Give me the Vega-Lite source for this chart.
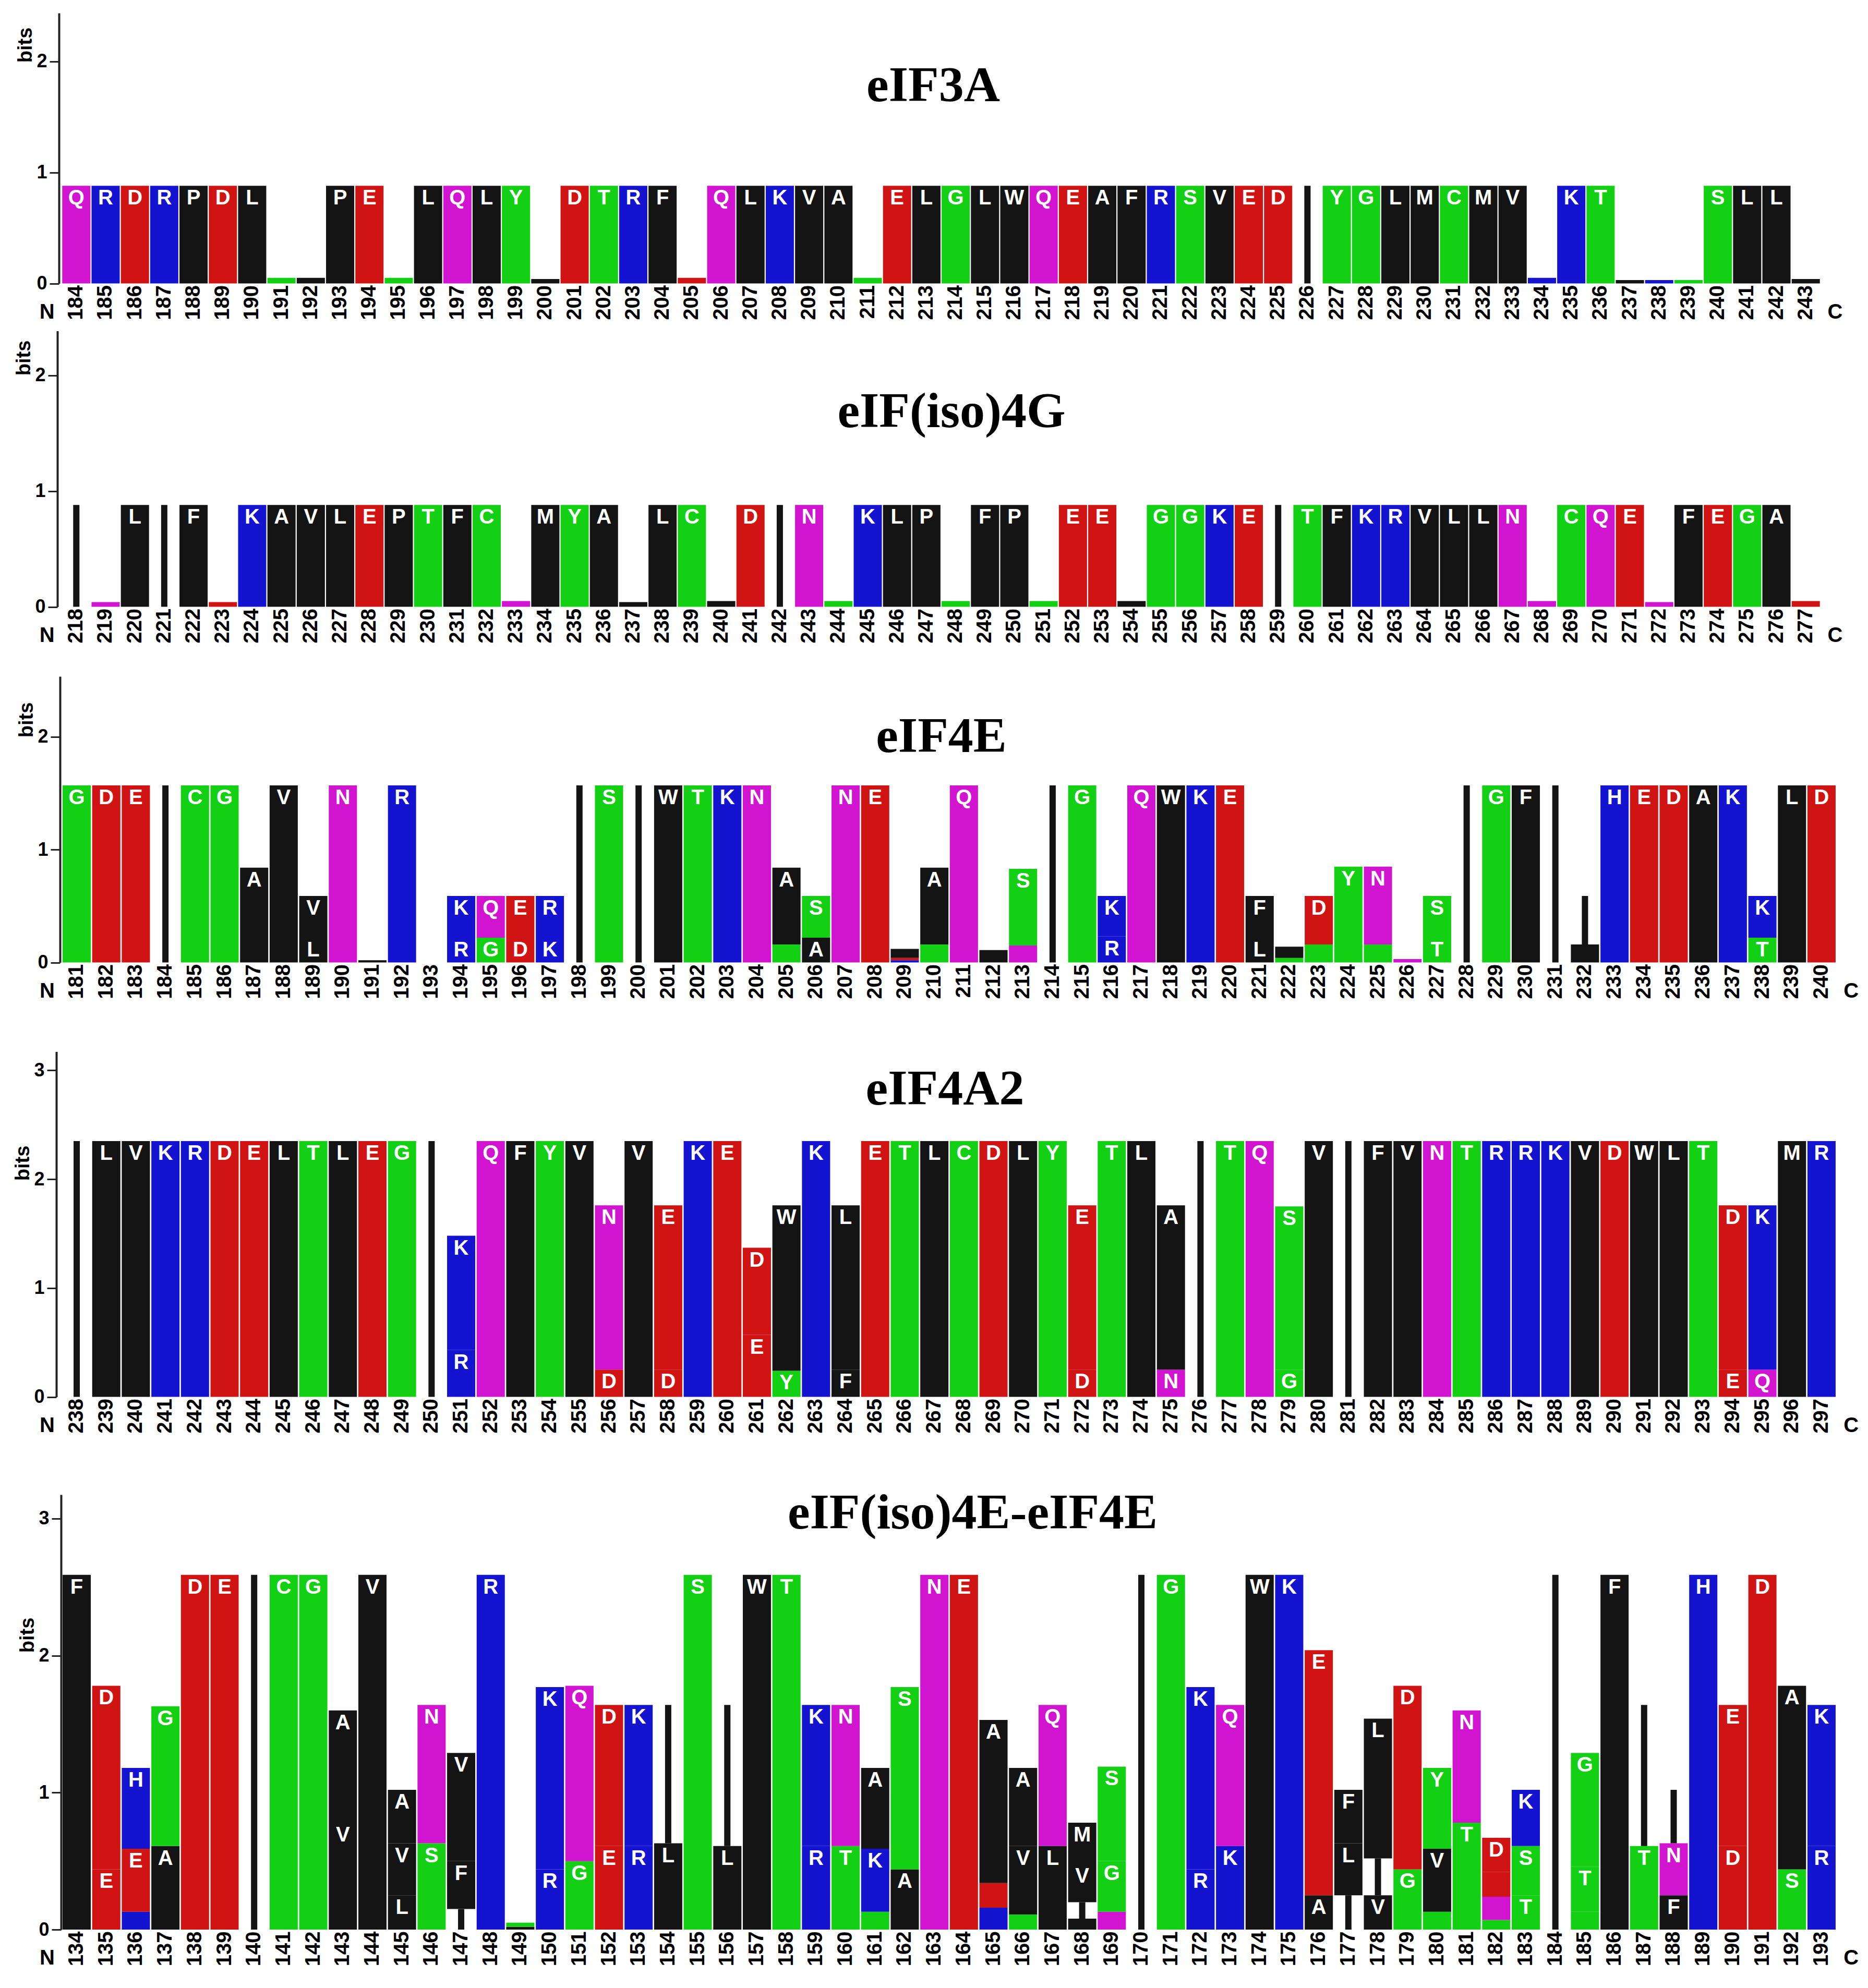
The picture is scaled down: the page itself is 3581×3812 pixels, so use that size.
{
"$schema": "https://vega.github.io/schema/vega-lite/v6.json",
"background": "white",
"padding": {"left": 25, "top": 0, "right": 0, "bottom": 0},
"spacing": 5,
"config": {
  "view": {"stroke": null},
  "axis": {"labelFont": "Liberation Sans", "titleFont": "Liberation Sans", "labelColor": "#000", "titleColor": "#000", "grid": false},
  "title": {"font": "Liberation Serif", "fontSize": 96, "fontWeight": "bold", "anchor": "middle", "frame": "group", "baseline": "alphabetic", "color": "#000"}
},
"datasets": {
  "ends": [{"pos": "N"}, {"pos": "C"}],
  "p1": [
    {"pos":"184","aa":"Q","bits":0.88},{"pos":"185","aa":"R","bits":0.88},{"pos":"186","aa":"D","bits":0.88},{"pos":"187","aa":"R","bits":0.88},{"pos":"188","aa":"P","bits":0.88},{"pos":"189","aa":"D","bits":0.88},{"pos":"190","aa":"L","bits":0.88},{"pos":"191","aa":"S","bits":0.05},{"pos":"192","aa":"A","bits":0.05},{"pos":"193","aa":"P","bits":0.88},{"pos":"194","aa":"E","bits":0.88},{"pos":"195","aa":"S","bits":0.05},{"pos":"196","aa":"L","bits":0.88},{"pos":"197","aa":"Q","bits":0.88},{"pos":"198","aa":"L","bits":0.88},{"pos":"199","aa":"Y","bits":0.88},{"pos":"200","aa":"L","bits":0.04},{"pos":"201","aa":"D","bits":0.88},{"pos":"202","aa":"T","bits":0.88},{"pos":"203","aa":"R","bits":0.88},{"pos":"204","aa":"F","bits":0.88},{"pos":"205","aa":"D","bits":0.05},{"pos":"206","aa":"Q","bits":0.88},{"pos":"207","aa":"L","bits":0.88},{"pos":"208","aa":"K","bits":0.88},{"pos":"209","aa":"V","bits":0.88},{"pos":"210","aa":"A","bits":0.88},{"pos":"211","aa":"T","bits":0.05},{"pos":"212","aa":"E","bits":0.88},{"pos":"213","aa":"L","bits":0.88},{"pos":"214","aa":"G","bits":0.88},{"pos":"215","aa":"L","bits":0.88},{"pos":"216","aa":"W","bits":0.88},{"pos":"217","aa":"Q","bits":0.88},{"pos":"218","aa":"E","bits":0.88},{"pos":"219","aa":"A","bits":0.88},{"pos":"220","aa":"F","bits":0.88},{"pos":"221","aa":"R","bits":0.88},{"pos":"222","aa":"S","bits":0.88},{"pos":"223","aa":"V","bits":0.88},{"pos":"224","aa":"E","bits":0.88},{"pos":"225","aa":"D","bits":0.88},{"pos":"226","aa":"I","bits":0.88},{"pos":"227","aa":"Y","bits":0.88},{"pos":"228","aa":"G","bits":0.88},{"pos":"229","aa":"L","bits":0.88},{"pos":"230","aa":"M","bits":0.88},{"pos":"231","aa":"C","bits":0.88},{"pos":"232","aa":"M","bits":0.88},{"pos":"233","aa":"V","bits":0.88},{"pos":"234","aa":"K","bits":0.05},{"pos":"235","aa":"K","bits":0.88},{"pos":"236","aa":"T","bits":0.88},{"pos":"237","aa":"P","bits":0.03},{"pos":"238","aa":"K","bits":0.03},{"pos":"239","aa":"S","bits":0.03},{"pos":"240","aa":"S","bits":0.88},{"pos":"241","aa":"L","bits":0.88},{"pos":"242","aa":"L","bits":0.88},{"pos":"243","aa":"M","bits":0.04}
  ],
  "p2": [
    {"pos":"218","aa":"I","bits":0.88},{"pos":"219","aa":"Q","bits":0.04},{"pos":"220","aa":"L","bits":0.88},{"pos":"221","aa":"I","bits":0.88},{"pos":"222","aa":"F","bits":0.88},{"pos":"223","aa":"E","bits":0.04},{"pos":"224","aa":"K","bits":0.88},{"pos":"225","aa":"A","bits":0.88},{"pos":"226","aa":"V","bits":0.88},{"pos":"227","aa":"L","bits":0.88},{"pos":"228","aa":"E","bits":0.88},{"pos":"229","aa":"P","bits":0.88},{"pos":"230","aa":"T","bits":0.88},{"pos":"231","aa":"F","bits":0.88},{"pos":"232","aa":"C","bits":0.88},{"pos":"233","aa":"Q","bits":0.05},{"pos":"234","aa":"M","bits":0.88},{"pos":"235","aa":"Y","bits":0.88},{"pos":"236","aa":"A","bits":0.88},{"pos":"237","aa":"L","bits":0.04},{"pos":"238","aa":"L","bits":0.88},{"pos":"239","aa":"C","bits":0.88},{"pos":"240","aa":"F","bits":0.05},{"pos":"241","aa":"D","bits":0.88},{"pos":"242","aa":"I","bits":0.88},{"pos":"243","aa":"N","bits":0.88},{"pos":"244","aa":"G","bits":0.05},{"pos":"245","aa":"K","bits":0.88},{"pos":"246","aa":"L","bits":0.88},{"pos":"247","aa":"P","bits":0.88},{"pos":"248","aa":"S","bits":0.05},{"pos":"249","aa":"F","bits":0.88},{"pos":"250","aa":"P","bits":0.88},{"pos":"251","aa":"S","bits":0.05},{"pos":"252","aa":"E","bits":0.88},{"pos":"253","aa":"E","bits":0.88},{"pos":"254","aa":"A","bits":0.05},{"pos":"255","aa":"G","bits":0.88},{"pos":"256","aa":"G","bits":0.88},{"pos":"257","aa":"K","bits":0.88},{"pos":"258","aa":"E","bits":0.88},{"pos":"259","aa":"I","bits":0.88},{"pos":"260","aa":"T","bits":0.88},{"pos":"261","aa":"F","bits":0.88},{"pos":"262","aa":"K","bits":0.88},{"pos":"263","aa":"R","bits":0.88},{"pos":"264","aa":"V","bits":0.88},{"pos":"265","aa":"L","bits":0.88},{"pos":"266","aa":"L","bits":0.88},{"pos":"267","aa":"N","bits":0.88},{"pos":"268","aa":"N","bits":0.05},{"pos":"269","aa":"C","bits":0.88},{"pos":"270","aa":"Q","bits":0.88},{"pos":"271","aa":"E","bits":0.88},{"pos":"272","aa":"Q","bits":0.04},{"pos":"273","aa":"F","bits":0.88},{"pos":"274","aa":"E","bits":0.88},{"pos":"275","aa":"G","bits":0.88},{"pos":"276","aa":"A","bits":0.88},{"pos":"277","aa":"D","bits":0.05}
  ],
  "p3": [
    {"pos":"181","aa":"G","bits":1.57},{"pos":"182","aa":"D","bits":1.57},{"pos":"183","aa":"E","bits":1.57},{"pos":"184","aa":"I","bits":1.57},{"pos":"185","aa":"C","bits":1.57},{"pos":"186","aa":"G","bits":1.57},
    {"pos":"187","aa":"V","bits":0.16},{"pos":"187","aa":"A","bits":0.68},
    {"pos":"188","aa":"V","bits":1.57},
    {"pos":"189","aa":"L","bits":0.22},{"pos":"189","aa":"V","bits":0.37},
    {"pos":"190","aa":"N","bits":1.57},{"pos":"191","aa":"L","bits":0.02},{"pos":"192","aa":"R","bits":1.57},
    {"pos":"194","aa":"R","bits":0.22},{"pos":"194","aa":"K","bits":0.37},
    {"pos":"195","aa":"G","bits":0.22},{"pos":"195","aa":"Q","bits":0.37},
    {"pos":"196","aa":"D","bits":0.22},{"pos":"196","aa":"E","bits":0.37},
    {"pos":"197","aa":"K","bits":0.22},{"pos":"197","aa":"R","bits":0.37},
    {"pos":"198","aa":"I","bits":1.57},{"pos":"199","aa":"S","bits":1.57},{"pos":"200","aa":"I","bits":1.57},{"pos":"201","aa":"W","bits":1.57},{"pos":"202","aa":"T","bits":1.57},{"pos":"203","aa":"K","bits":1.57},{"pos":"204","aa":"N","bits":1.57},
    {"pos":"205","aa":"S","bits":0.16},{"pos":"205","aa":"A","bits":0.68},
    {"pos":"206","aa":"A","bits":0.22},{"pos":"206","aa":"S","bits":0.37},
    {"pos":"207","aa":"N","bits":1.57},{"pos":"208","aa":"E","bits":1.57},
    {"pos":"209","aa":"K","bits":0.02},{"pos":"209","aa":"D","bits":0.02},{"pos":"209","aa":"A","bits":0.08},
    {"pos":"210","aa":"T","bits":0.16},{"pos":"210","aa":"A","bits":0.68},
    {"pos":"211","aa":"Q","bits":1.57},
    {"pos":"212","aa":"L","bits":0.03},{"pos":"212","aa":"V","bits":0.08},
    {"pos":"213","aa":"N","bits":0.15},{"pos":"213","aa":"S","bits":0.68},
    {"pos":"214","aa":"I","bits":1.57},{"pos":"215","aa":"G","bits":1.57},
    {"pos":"216","aa":"R","bits":0.23},{"pos":"216","aa":"K","bits":0.36},
    {"pos":"217","aa":"Q","bits":1.57},{"pos":"218","aa":"W","bits":1.57},{"pos":"219","aa":"K","bits":1.57},{"pos":"220","aa":"E","bits":1.57},
    {"pos":"221","aa":"L","bits":0.22},{"pos":"221","aa":"F","bits":0.37},
    {"pos":"222","aa":"C","bits":0.04},{"pos":"222","aa":"L","bits":0.1},
    {"pos":"223","aa":"G","bits":0.16},{"pos":"223","aa":"D","bits":0.43},
    {"pos":"224","aa":"C","bits":0.16},{"pos":"224","aa":"Y","bits":0.69},
    {"pos":"225","aa":"T","bits":0.16},{"pos":"225","aa":"N","bits":0.69},
    {"pos":"226","aa":"Q","bits":0.03},
    {"pos":"227","aa":"T","bits":0.22},{"pos":"227","aa":"S","bits":0.37},
    {"pos":"228","aa":"I","bits":1.57},{"pos":"229","aa":"G","bits":1.57},{"pos":"230","aa":"F","bits":1.57},{"pos":"231","aa":"I","bits":1.57},
    {"pos":"232","aa":"F","bits":0.16},{"pos":"232","aa":"I","bits":0.43},
    {"pos":"233","aa":"H","bits":1.57},{"pos":"234","aa":"E","bits":1.57},{"pos":"235","aa":"D","bits":1.57},{"pos":"236","aa":"A","bits":1.57},{"pos":"237","aa":"K","bits":1.57},
    {"pos":"238","aa":"T","bits":0.22},{"pos":"238","aa":"K","bits":0.37},
    {"pos":"239","aa":"L","bits":1.57},{"pos":"240","aa":"D","bits":1.57}
  ],
  "p4": [
    {"pos":"238","aa":"I","bits":2.35},{"pos":"239","aa":"L","bits":2.35},{"pos":"240","aa":"V","bits":2.35},{"pos":"241","aa":"K","bits":2.35},{"pos":"242","aa":"R","bits":2.35},{"pos":"243","aa":"D","bits":2.35},{"pos":"244","aa":"E","bits":2.35},{"pos":"245","aa":"L","bits":2.35},{"pos":"246","aa":"T","bits":2.35},{"pos":"247","aa":"L","bits":2.35},{"pos":"248","aa":"E","bits":2.35},{"pos":"249","aa":"G","bits":2.35},{"pos":"250","aa":"I","bits":2.35},
    {"pos":"251","aa":"R","bits":0.43},{"pos":"251","aa":"K","bits":1.05},
    {"pos":"252","aa":"Q","bits":2.35},{"pos":"253","aa":"F","bits":2.35},{"pos":"254","aa":"Y","bits":2.35},{"pos":"255","aa":"V","bits":2.35},
    {"pos":"256","aa":"D","bits":0.25},{"pos":"256","aa":"N","bits":1.51},
    {"pos":"257","aa":"V","bits":2.35},
    {"pos":"258","aa":"D","bits":0.25},{"pos":"258","aa":"E","bits":1.51},
    {"pos":"259","aa":"K","bits":2.35},{"pos":"260","aa":"E","bits":2.35},
    {"pos":"261","aa":"E","bits":0.57},{"pos":"261","aa":"D","bits":0.8},
    {"pos":"262","aa":"Y","bits":0.24},{"pos":"262","aa":"W","bits":1.52},
    {"pos":"263","aa":"K","bits":2.35},
    {"pos":"264","aa":"F","bits":0.25},{"pos":"264","aa":"L","bits":1.51},
    {"pos":"265","aa":"E","bits":2.35},{"pos":"266","aa":"T","bits":2.35},{"pos":"267","aa":"L","bits":2.35},{"pos":"268","aa":"C","bits":2.35},{"pos":"269","aa":"D","bits":2.35},{"pos":"270","aa":"L","bits":2.35},{"pos":"271","aa":"Y","bits":2.35},
    {"pos":"272","aa":"D","bits":0.25},{"pos":"272","aa":"E","bits":1.51},
    {"pos":"273","aa":"T","bits":2.35},{"pos":"274","aa":"L","bits":2.35},
    {"pos":"275","aa":"N","bits":0.25},{"pos":"275","aa":"A","bits":1.51},
    {"pos":"276","aa":"I","bits":2.35},{"pos":"277","aa":"T","bits":2.35},{"pos":"278","aa":"Q","bits":2.35},
    {"pos":"279","aa":"G","bits":0.25},{"pos":"279","aa":"S","bits":1.5},
    {"pos":"280","aa":"V","bits":2.35},{"pos":"281","aa":"I","bits":2.35},{"pos":"282","aa":"F","bits":2.35},{"pos":"283","aa":"V","bits":2.35},{"pos":"284","aa":"N","bits":2.35},{"pos":"285","aa":"T","bits":2.35},{"pos":"286","aa":"R","bits":2.35},{"pos":"287","aa":"R","bits":2.35},{"pos":"288","aa":"K","bits":2.35},{"pos":"289","aa":"V","bits":2.35},{"pos":"290","aa":"D","bits":2.35},{"pos":"291","aa":"W","bits":2.35},{"pos":"292","aa":"L","bits":2.35},{"pos":"293","aa":"T","bits":2.35},
    {"pos":"294","aa":"E","bits":0.25},{"pos":"294","aa":"D","bits":1.51},
    {"pos":"295","aa":"Q","bits":0.25},{"pos":"295","aa":"K","bits":1.51},
    {"pos":"296","aa":"M","bits":2.35},{"pos":"297","aa":"R","bits":2.35}
  ],
  "p5": [
    {"pos":"134","aa":"F","bits":2.59},
    {"pos":"135","aa":"E","bits":0.44},{"pos":"135","aa":"D","bits":1.34},
    {"pos":"136","aa":"K","bits":0.13},{"pos":"136","aa":"E","bits":0.46},{"pos":"136","aa":"H","bits":0.59},
    {"pos":"137","aa":"A","bits":0.61},{"pos":"137","aa":"G","bits":1.02},
    {"pos":"138","aa":"D","bits":2.59},{"pos":"139","aa":"E","bits":2.59},{"pos":"140","aa":"I","bits":2.59},{"pos":"141","aa":"C","bits":2.59},{"pos":"142","aa":"G","bits":2.59},
    {"pos":"143","aa":"V","bits":0.78},{"pos":"143","aa":"A","bits":0.82},
    {"pos":"144","aa":"V","bits":2.59},
    {"pos":"145","aa":"L","bits":0.25},{"pos":"145","aa":"V","bits":0.38},{"pos":"145","aa":"A","bits":0.39},
    {"pos":"146","aa":"S","bits":0.63},{"pos":"146","aa":"N","bits":1.01},
    {"pos":"147","aa":"I","bits":0.15},{"pos":"147","aa":"F","bits":0.35},{"pos":"147","aa":"V","bits":0.79},
    {"pos":"148","aa":"R","bits":2.59},
    {"pos":"149","aa":"A","bits":0.02},{"pos":"149","aa":"G","bits":0.03},
    {"pos":"150","aa":"R","bits":0.44},{"pos":"150","aa":"K","bits":1.33},
    {"pos":"151","aa":"G","bits":0.5},{"pos":"151","aa":"Q","bits":1.28},
    {"pos":"152","aa":"E","bits":0.61},{"pos":"152","aa":"D","bits":1.03},
    {"pos":"153","aa":"R","bits":0.61},{"pos":"153","aa":"K","bits":1.03},
    {"pos":"154","aa":"L","bits":0.63},{"pos":"154","aa":"I","bits":1.01},
    {"pos":"155","aa":"S","bits":2.59},
    {"pos":"156","aa":"L","bits":0.61},{"pos":"156","aa":"I","bits":1.03},
    {"pos":"157","aa":"W","bits":2.59},{"pos":"158","aa":"T","bits":2.59},
    {"pos":"159","aa":"R","bits":0.61},{"pos":"159","aa":"K","bits":1.03},
    {"pos":"160","aa":"T","bits":0.61},{"pos":"160","aa":"N","bits":1.03},
    {"pos":"161","aa":"S","bits":0.13},{"pos":"161","aa":"K","bits":0.46},{"pos":"161","aa":"A","bits":0.59},
    {"pos":"162","aa":"A","bits":0.44},{"pos":"162","aa":"S","bits":1.33},
    {"pos":"163","aa":"N","bits":2.59},{"pos":"164","aa":"E","bits":2.59},
    {"pos":"165","aa":"K","bits":0.16},{"pos":"165","aa":"E","bits":0.18},{"pos":"165","aa":"A","bits":1.19},
    {"pos":"166","aa":"T","bits":0.11},{"pos":"166","aa":"V","bits":0.5},{"pos":"166","aa":"A","bits":0.57},
    {"pos":"167","aa":"L","bits":0.61},{"pos":"167","aa":"Q","bits":1.03},
    {"pos":"168","aa":"L","bits":0.08},{"pos":"168","aa":"I","bits":0.12},{"pos":"168","aa":"V","bits":0.28},{"pos":"168","aa":"M","bits":0.3},
    {"pos":"169","aa":"N","bits":0.13},{"pos":"169","aa":"G","bits":0.37},{"pos":"169","aa":"S","bits":0.69},
    {"pos":"170","aa":"I","bits":2.59},{"pos":"171","aa":"G","bits":2.59},
    {"pos":"172","aa":"R","bits":0.44},{"pos":"172","aa":"K","bits":1.33},
    {"pos":"173","aa":"K","bits":0.61},{"pos":"173","aa":"Q","bits":1.03},
    {"pos":"174","aa":"W","bits":2.59},{"pos":"175","aa":"K","bits":2.59},
    {"pos":"176","aa":"A","bits":0.25},{"pos":"176","aa":"E","bits":1.79},
    {"pos":"177","aa":"I","bits":0.25},{"pos":"177","aa":"L","bits":0.38},{"pos":"177","aa":"F","bits":0.39},
    {"pos":"178","aa":"V","bits":0.25},{"pos":"178","aa":"I","bits":0.27},{"pos":"178","aa":"L","bits":1.02},
    {"pos":"179","aa":"G","bits":0.44},{"pos":"179","aa":"D","bits":1.34},
    {"pos":"180","aa":"C","bits":0.13},{"pos":"180","aa":"V","bits":0.46},{"pos":"180","aa":"Y","bits":0.59},
    {"pos":"181","aa":"T","bits":0.78},{"pos":"181","aa":"N","bits":0.82},
    {"pos":"182","aa":"S","bits":0.07},{"pos":"182","aa":"N","bits":0.17},{"pos":"182","aa":"E","bits":0.18},{"pos":"182","aa":"D","bits":0.25},
    {"pos":"183","aa":"T","bits":0.25},{"pos":"183","aa":"S","bits":0.36},{"pos":"183","aa":"K","bits":0.41},
    {"pos":"184","aa":"I","bits":2.59},
    {"pos":"185","aa":"S","bits":0.13},{"pos":"185","aa":"T","bits":0.33},{"pos":"185","aa":"G","bits":0.83},
    {"pos":"186","aa":"F","bits":2.59},
    {"pos":"187","aa":"T","bits":0.61},{"pos":"187","aa":"I","bits":1.03},
    {"pos":"188","aa":"F","bits":0.25},{"pos":"188","aa":"N","bits":0.38},{"pos":"188","aa":"I","bits":0.39},
    {"pos":"189","aa":"H","bits":2.59},
    {"pos":"190","aa":"D","bits":0.61},{"pos":"190","aa":"E","bits":1.03},
    {"pos":"191","aa":"D","bits":2.59},
    {"pos":"192","aa":"S","bits":0.44},{"pos":"192","aa":"A","bits":1.34},
    {"pos":"193","aa":"R","bits":0.61},{"pos":"193","aa":"K","bits":1.03}
  ]
},
"vconcat": [
  {
    "width": 3484, "height": 543.5,
    "title": {"text": "eIF3A", "offset": -214, "dx": -15},
    "layer": [
      {"data": {"name": "p1"},
       "transform": [{"stack": "bits", "groupby": ["pos"], "sort": [{"field": "bits", "order": "ascending"}], "as": ["y0", "y1"]}],
       "mark": {"type": "bar", "opacity": 0.92},
       "encoding": {
         "x": {"field": "pos", "type": "ordinal", "scale": {"paddingInner": 0, "paddingOuter": 0, "domain": ["N","184","185","186","187","188","189","190","191","192","193","194","195","196","197","198","199","200","201","202","203","204","205","206","207","208","209","210","211","212","213","214","215","216","217","218","219","220","221","222","223","224","225","226","227","228","229","230","231","232","233","234","235","236","237","238","239","240","241","242","243","C"]},
               "axis": {"title": null, "labelAngle": -90, "labelFontSize": 40, "labelFontWeight": "bold", "labelPadding": 3, "ticks": false, "tickSize": 0, "domain": false, "labelAlign": "right", "labelBaseline": "middle", "labelOverlap": false, "labelExpr": "datum.value == 'N' || datum.value == 'C' ? '' : datum.value"}},
         "y": {"field": "y1", "type": "quantitative", "scale": {"domain": [0, 2.437], "range": [543.5, 25], "nice": false, "zero": false},
               "axis": {"title": "bits", "values": [0, 1, 2], "format": "d", "labelFontSize": 36, "labelFontWeight": "bold", "labelPadding": 5, "tickSize": 18, "tickWidth": 3, "tickColor": "#222", "domainColor": "#222", "domainWidth": 4, "offset": -51, "titleFontSize": 38, "titleFontWeight": "bold", "titleAngle": -90, "titleAlign": "center", "titleBaseline": "middle", "titleX": -64, "titleY": 86}},
         "y2": {"field": "y0"},
         "color": {"field": "aa", "type": "nominal", "legend": null, "scale": {"domain": ["A","C","D","E","F","G","H","I","K","L","M","N","P","Q","R","S","T","V","W","Y"], "range": ["#000000","#00CC00","#CC0000","#CC0000","#000000","#00CC00","#0000CC","#000000","#0000CC","#000000","#000000","#CC00CC","#000000","#CC00CC","#0000CC","#00CC00","#00CC00","#000000","#000000","#00CC00"]}},
         "size": {"condition": {"test": "datum.aa == 'I'", "value": 12}, "value": 54}
       }},
      {"data": {"name": "p1"},
       "transform": [{"stack": "bits", "groupby": ["pos"], "sort": [{"field": "bits", "order": "ascending"}], "as": ["y0", "y1"]}, {"filter": "datum.bits >= 0.2 && datum.aa != 'I'"}],
       "mark": {"type": "text", "color": "#ffffff", "font": "Liberation Sans", "fontSize": 40, "fontWeight": "bold", "baseline": "top", "align": "center", "dy": 4},
       "encoding": {"x": {"field": "pos", "type": "ordinal"}, "y": {"field": "y1", "type": "quantitative"}, "text": {"field": "aa"}}},
      {"data": {"name": "ends"},
       "mark": {"type": "text", "color": "#000000", "font": "Liberation Sans", "fontSize": 40, "fontWeight": "bold", "baseline": "middle", "align": "center", "dy": 55},
       "encoding": {"x": {"field": "pos", "type": "ordinal"}, "y": {"datum": 0, "type": "quantitative"}, "text": {"field": "pos"}}}
    ]
  },
  {
    "width": 3484, "height": 539.5,
    "title": {"text": "eIF(iso)4G", "offset": -215, "dx": 20},
    "layer": [
      {"data": {"name": "p2"},
       "transform": [{"stack": "bits", "groupby": ["pos"], "sort": [{"field": "bits", "order": "ascending"}], "as": ["y0", "y1"]}],
       "mark": {"type": "bar", "opacity": 0.92},
       "encoding": {
         "x": {"field": "pos", "type": "ordinal", "scale": {"paddingInner": 0, "paddingOuter": 0, "domain": ["N","218","219","220","221","222","223","224","225","226","227","228","229","230","231","232","233","234","235","236","237","238","239","240","241","242","243","244","245","246","247","248","249","250","251","252","253","254","255","256","257","258","259","260","261","262","263","264","265","266","267","268","269","270","271","272","273","274","275","276","277","C"]},
               "axis": {"title": null, "labelAngle": -90, "labelFontSize": 40, "labelFontWeight": "bold", "labelPadding": 3, "ticks": false, "tickSize": 0, "domain": false, "labelAlign": "right", "labelBaseline": "middle", "labelOverlap": false, "labelExpr": "datum.value == 'N' || datum.value == 'C' ? '' : datum.value"}},
         "y": {"field": "y1", "type": "quantitative", "scale": {"domain": [0, 2.383], "range": [539.5, 10.5], "nice": false, "zero": false},
               "axis": {"title": "bits", "values": [0, 1, 2], "format": "d", "labelFontSize": 36, "labelFontWeight": "bold", "labelPadding": 5, "tickSize": 18, "tickWidth": 3, "tickColor": "#222", "domainColor": "#222", "domainWidth": 4, "offset": -48, "titleFontSize": 38, "titleFontWeight": "bold", "titleAngle": -90, "titleAlign": "center", "titleBaseline": "middle", "titleX": -64, "titleY": 62}},
         "y2": {"field": "y0"},
         "color": {"field": "aa", "type": "nominal", "legend": null, "scale": {"domain": ["A","C","D","E","F","G","H","I","K","L","M","N","P","Q","R","S","T","V","W","Y"], "range": ["#000000","#00CC00","#CC0000","#CC0000","#000000","#00CC00","#0000CC","#000000","#0000CC","#000000","#000000","#CC00CC","#000000","#CC00CC","#0000CC","#00CC00","#00CC00","#000000","#000000","#00CC00"]}},
         "size": {"condition": {"test": "datum.aa == 'I'", "value": 12}, "value": 54}
       }},
      {"data": {"name": "p2"},
       "transform": [{"stack": "bits", "groupby": ["pos"], "sort": [{"field": "bits", "order": "ascending"}], "as": ["y0", "y1"]}, {"filter": "datum.bits >= 0.2 && datum.aa != 'I'"}],
       "mark": {"type": "text", "color": "#ffffff", "font": "Liberation Sans", "fontSize": 40, "fontWeight": "bold", "baseline": "top", "align": "center", "dy": 4},
       "encoding": {"x": {"field": "pos", "type": "ordinal"}, "y": {"field": "y1", "type": "quantitative"}, "text": {"field": "aa"}}},
      {"data": {"name": "ends"},
       "mark": {"type": "text", "color": "#000000", "font": "Liberation Sans", "fontSize": 40, "fontWeight": "bold", "baseline": "middle", "align": "center", "dy": 55},
       "encoding": {"x": {"field": "pos", "type": "ordinal"}, "y": {"datum": 0, "type": "quantitative"}, "text": {"field": "pos"}}}
    ]
  },
  {
    "width": 3515, "height": 601.5,
    "title": {"text": "eIF4E", "offset": -218, "dx": -15},
    "layer": [
      {"data": {"name": "p3"},
       "transform": [{"stack": "bits", "groupby": ["pos"], "sort": [{"field": "bits", "order": "ascending"}], "as": ["y0", "y1"]}],
       "mark": {"type": "bar", "opacity": 0.92},
       "encoding": {
         "x": {"field": "pos", "type": "ordinal", "scale": {"paddingInner": 0, "paddingOuter": 0, "domain": ["N","181","182","183","184","185","186","187","188","189","190","191","192","193","194","195","196","197","198","199","200","201","202","203","204","205","206","207","208","209","210","211","212","213","214","215","216","217","218","219","220","221","222","223","224","225","226","227","228","229","230","231","232","233","234","235","236","237","238","239","240","C"]},
               "axis": {"title": null, "labelAngle": -90, "labelFontSize": 40, "labelFontWeight": "bold", "labelPadding": 3, "ticks": false, "tickSize": 0, "domain": false, "labelAlign": "right", "labelBaseline": "middle", "labelOverlap": false, "labelExpr": "datum.value == 'N' || datum.value == 'C' ? '' : datum.value"}},
         "y": {"field": "y1", "type": "quantitative", "scale": {"domain": [0, 2.536], "range": [601.5, 53], "nice": false, "zero": false},
               "axis": {"title": "bits", "values": [0, 1, 2], "format": "d", "labelFontSize": 36, "labelFontWeight": "bold", "labelPadding": 5, "tickSize": 18, "tickWidth": 3, "tickColor": "#222", "domainColor": "#222", "domainWidth": 4, "offset": -53, "titleFontSize": 38, "titleFontWeight": "bold", "titleAngle": -90, "titleAlign": "center", "titleBaseline": "middle", "titleX": -64, "titleY": 136}},
         "y2": {"field": "y0"},
         "color": {"field": "aa", "type": "nominal", "legend": null, "scale": {"domain": ["A","C","D","E","F","G","H","I","K","L","M","N","P","Q","R","S","T","V","W","Y"], "range": ["#000000","#00CC00","#CC0000","#CC0000","#000000","#00CC00","#0000CC","#000000","#0000CC","#000000","#000000","#CC00CC","#000000","#CC00CC","#0000CC","#00CC00","#00CC00","#000000","#000000","#00CC00"]}},
         "size": {"condition": {"test": "datum.aa == 'I'", "value": 12}, "value": 54}
       }},
      {"data": {"name": "p3"},
       "transform": [{"stack": "bits", "groupby": ["pos"], "sort": [{"field": "bits", "order": "ascending"}], "as": ["y0", "y1"]}, {"filter": "datum.bits >= 0.2 && datum.aa != 'I'"}],
       "mark": {"type": "text", "color": "#ffffff", "font": "Liberation Sans", "fontSize": 40, "fontWeight": "bold", "baseline": "top", "align": "center", "dy": 4},
       "encoding": {"x": {"field": "pos", "type": "ordinal"}, "y": {"field": "y1", "type": "quantitative"}, "text": {"field": "aa"}}},
      {"data": {"name": "ends"},
       "mark": {"type": "text", "color": "#000000", "font": "Liberation Sans", "fontSize": 40, "fontWeight": "bold", "baseline": "middle", "align": "center", "dy": 55},
       "encoding": {"x": {"field": "pos", "type": "ordinal"}, "y": {"datum": 0, "type": "quantitative"}, "text": {"field": "pos"}}}
    ]
  },
  {
    "width": 3515, "height": 752.5,
    "title": {"text": "eIF4A2", "offset": -212, "dx": -8},
    "layer": [
      {"data": {"name": "p4"},
       "transform": [{"stack": "bits", "groupby": ["pos"], "sort": [{"field": "bits", "order": "ascending"}], "as": ["y0", "y1"]}],
       "mark": {"type": "bar", "opacity": 0.92},
       "encoding": {
         "x": {"field": "pos", "type": "ordinal", "scale": {"paddingInner": 0, "paddingOuter": 0, "domain": ["N","238","239","240","241","242","243","244","245","246","247","248","249","250","251","252","253","254","255","256","257","258","259","260","261","262","263","264","265","266","267","268","269","270","271","272","273","274","275","276","277","278","279","280","281","282","283","284","285","286","287","288","289","290","291","292","293","294","295","296","297","C"]},
               "axis": {"title": null, "labelAngle": -90, "labelFontSize": 40, "labelFontWeight": "bold", "labelPadding": 3, "ticks": false, "tickSize": 0, "domain": false, "labelAlign": "right", "labelBaseline": "middle", "labelOverlap": false, "labelExpr": "datum.value == 'N' || datum.value == 'C' ? '' : datum.value"}},
         "y": {"field": "y1", "type": "quantitative", "scale": {"domain": [0, 3.172], "range": [752.5, 90.5], "nice": false, "zero": false},
               "axis": {"title": "bits", "values": [0, 1, 2, 3], "format": "d", "labelFontSize": 36, "labelFontWeight": "bold", "labelPadding": 5, "tickSize": 18, "tickWidth": 3, "tickColor": "#222", "domainColor": "#222", "domainWidth": 4, "offset": -46, "titleFontSize": 38, "titleFontWeight": "bold", "titleAngle": -90, "titleAlign": "center", "titleBaseline": "middle", "titleX": -64, "titleY": 304}},
         "y2": {"field": "y0"},
         "color": {"field": "aa", "type": "nominal", "legend": null, "scale": {"domain": ["A","C","D","E","F","G","H","I","K","L","M","N","P","Q","R","S","T","V","W","Y"], "range": ["#000000","#00CC00","#CC0000","#CC0000","#000000","#00CC00","#0000CC","#000000","#0000CC","#000000","#000000","#CC00CC","#000000","#CC00CC","#0000CC","#00CC00","#00CC00","#000000","#000000","#00CC00"]}},
         "size": {"condition": {"test": "datum.aa == 'I'", "value": 12}, "value": 54}
       }},
      {"data": {"name": "p4"},
       "transform": [{"stack": "bits", "groupby": ["pos"], "sort": [{"field": "bits", "order": "ascending"}], "as": ["y0", "y1"]}, {"filter": "datum.bits >= 0.2 && datum.aa != 'I'"}],
       "mark": {"type": "text", "color": "#ffffff", "font": "Liberation Sans", "fontSize": 40, "fontWeight": "bold", "baseline": "top", "align": "center", "dy": 4},
       "encoding": {"x": {"field": "pos", "type": "ordinal"}, "y": {"field": "y1", "type": "quantitative"}, "text": {"field": "aa"}}},
      {"data": {"name": "ends"},
       "mark": {"type": "text", "color": "#000000", "font": "Liberation Sans", "fontSize": 40, "fontWeight": "bold", "baseline": "middle", "align": "center", "dy": 55},
       "encoding": {"x": {"field": "pos", "type": "ordinal"}, "y": {"datum": 0, "type": "quantitative"}, "text": {"field": "pos"}}}
    ]
  },
  {
    "width": 3515, "height": 941,
    "title": {"text": "eIF(iso)4E-eIF4E", "offset": -192, "dx": 45},
    "layer": [
      {"data": {"name": "p5"},
       "transform": [{"stack": "bits", "groupby": ["pos"], "sort": [{"field": "bits", "order": "ascending"}], "as": ["y0", "y1"]}],
       "mark": {"type": "bar", "opacity": 0.92},
       "encoding": {
         "x": {"field": "pos", "type": "ordinal", "scale": {"paddingInner": 0, "paddingOuter": 0, "domain": ["N","134","135","136","137","138","139","140","141","142","143","144","145","146","147","148","149","150","151","152","153","154","155","156","157","158","159","160","161","162","163","164","165","166","167","168","169","170","171","172","173","174","175","176","177","178","179","180","181","182","183","184","185","186","187","188","189","190","191","192","193","C"]},
               "axis": {"title": null, "labelAngle": -90, "labelFontSize": 40, "labelFontWeight": "bold", "labelPadding": 3, "ticks": false, "tickSize": 0, "domain": false, "labelAlign": "right", "labelBaseline": "middle", "labelOverlap": false, "labelExpr": "datum.value == 'N' || datum.value == 'C' ? '' : datum.value"}},
         "y": {"field": "y1", "type": "quantitative", "scale": {"domain": [0, 3.175], "range": [941, 107], "nice": false, "zero": false},
               "axis": {"title": "bits", "values": [0, 1, 2, 3], "format": "d", "labelFontSize": 36, "labelFontWeight": "bold", "labelPadding": 5, "tickSize": 18, "tickWidth": 3, "tickColor": "#222", "domainColor": "#222", "domainWidth": 4, "offset": -55, "titleFontSize": 38, "titleFontWeight": "bold", "titleAngle": -90, "titleAlign": "center", "titleBaseline": "middle", "titleX": -64, "titleY": 376}},
         "y2": {"field": "y0"},
         "color": {"field": "aa", "type": "nominal", "legend": null, "scale": {"domain": ["A","C","D","E","F","G","H","I","K","L","M","N","P","Q","R","S","T","V","W","Y"], "range": ["#000000","#00CC00","#CC0000","#CC0000","#000000","#00CC00","#0000CC","#000000","#0000CC","#000000","#000000","#CC00CC","#000000","#CC00CC","#0000CC","#00CC00","#00CC00","#000000","#000000","#00CC00"]}},
         "size": {"condition": {"test": "datum.aa == 'I'", "value": 12}, "value": 54}
       }},
      {"data": {"name": "p5"},
       "transform": [{"stack": "bits", "groupby": ["pos"], "sort": [{"field": "bits", "order": "ascending"}], "as": ["y0", "y1"]}, {"filter": "datum.bits >= 0.2 && datum.aa != 'I'"}],
       "mark": {"type": "text", "color": "#ffffff", "font": "Liberation Sans", "fontSize": 40, "fontWeight": "bold", "baseline": "top", "align": "center", "dy": 4},
       "encoding": {"x": {"field": "pos", "type": "ordinal"}, "y": {"field": "y1", "type": "quantitative"}, "text": {"field": "aa"}}},
      {"data": {"name": "ends"},
       "mark": {"type": "text", "color": "#000000", "font": "Liberation Sans", "fontSize": 40, "fontWeight": "bold", "baseline": "middle", "align": "center", "dy": 55},
       "encoding": {"x": {"field": "pos", "type": "ordinal"}, "y": {"datum": 0, "type": "quantitative"}, "text": {"field": "pos"}}}
    ]
  }
]
}
